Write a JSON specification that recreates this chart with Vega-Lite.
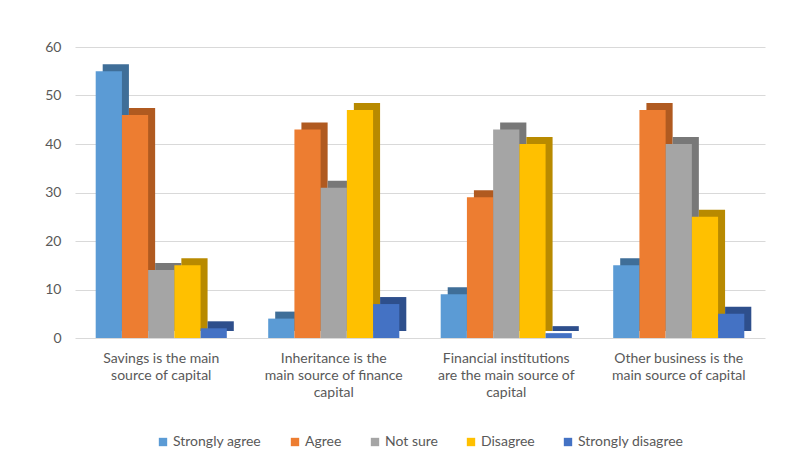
{
  "$schema": "https://vega.github.io/schema/vega-lite/v6.json",
  "width": 690,
  "height": 291,
  "autosize": {"type": "none"},
  "padding": {"left": 75, "top": 47, "right": 27, "bottom": 127},
  "background": "white",
  "config": {
    "font": "Lato",
    "view": {"stroke": null},
    "axis": {"labelColor": "#595959", "labelFontSize": 14, "labelFont": "Lato"},
    "legend": {"labelColor": "#595959", "labelFontSize": 14, "labelFont": "Lato", "layout": {"bottom": {"anchor": "middle"}}}
  },
  "data": {
    "values": [
      {"statement": "Savings", "response": "Strongly agree", "value": 55},
      {"statement": "Savings", "response": "Agree", "value": 46},
      {"statement": "Savings", "response": "Not sure", "value": 14},
      {"statement": "Savings", "response": "Disagree", "value": 15},
      {"statement": "Savings", "response": "Strongly disagree", "value": 2},
      {"statement": "Inheritance", "response": "Strongly agree", "value": 4},
      {"statement": "Inheritance", "response": "Agree", "value": 43},
      {"statement": "Inheritance", "response": "Not sure", "value": 31},
      {"statement": "Inheritance", "response": "Disagree", "value": 47},
      {"statement": "Inheritance", "response": "Strongly disagree", "value": 7},
      {"statement": "Financial", "response": "Strongly agree", "value": 9},
      {"statement": "Financial", "response": "Agree", "value": 29},
      {"statement": "Financial", "response": "Not sure", "value": 43},
      {"statement": "Financial", "response": "Disagree", "value": 40},
      {"statement": "Financial", "response": "Strongly disagree", "value": 1},
      {"statement": "Other", "response": "Strongly agree", "value": 15},
      {"statement": "Other", "response": "Agree", "value": 47},
      {"statement": "Other", "response": "Not sure", "value": 40},
      {"statement": "Other", "response": "Disagree", "value": 25},
      {"statement": "Other", "response": "Strongly disagree", "value": 5}
    ]
  },
  "encoding": {
    "x": {
      "field": "statement",
      "type": "nominal",
      "sort": ["Savings", "Inheritance", "Financial", "Other"],
      "scale": {"paddingInner": 0.24, "paddingOuter": 0.12},
      "axis": {
        "title": null,
        "labelAngle": 0,
        "ticks": false,
        "domain": false,
        "labelPadding": 13,
        "labelLineHeight": 17,
        "labelExpr": "datum.label == 'Savings' ? ['Savings is the main', 'source of capital'] : datum.label == 'Inheritance' ? ['Inheritance is the', 'main source of finance', 'capital'] : datum.label == 'Financial' ? ['Financial institutions', 'are the main source of', 'capital'] : ['Other business is the', 'main source of capital']"
      }
    },
    "y": {
      "field": "value",
      "type": "quantitative",
      "scale": {"domain": [0, 60]},
      "axis": {
        "title": null,
        "values": [0, 10, 20, 30, 40, 50, 60],
        "labelOverlap": false,
        "domain": false,
        "ticks": false,
        "labelPadding": 14,
        "gridColor": "#D9D9D9",
        "gridWidth": 1
      }
    }
  },
  "layer": [
    {
      "mark": {"type": "bar", "yOffset": -7},
      "encoding": {
        "xOffset": {
          "field": "response",
          "type": "nominal",
          "sort": ["Strongly agree", "Agree", "Not sure", "Disagree", "Strongly disagree"],
          "scale": {"range": [7, 138.1]}
        },
        "color": {
          "field": "response",
          "type": "nominal",
          "scale": {
            "domain": ["Strongly agree", "Agree", "Not sure", "Disagree", "Strongly disagree"],
            "range": ["#3F6E98", "#B05A20", "#787878", "#B88A00", "#2E4F8C"]
          },
          "legend": null
        }
      }
    },
    {
      "mark": {"type": "bar"},
      "encoding": {
        "xOffset": {
          "field": "response",
          "type": "nominal",
          "sort": ["Strongly agree", "Agree", "Not sure", "Disagree", "Strongly disagree"],
          "scale": {"range": [0, 131.1]}
        },
        "color": {
          "field": "response",
          "type": "nominal",
          "sort": ["Strongly agree", "Agree", "Not sure", "Disagree", "Strongly disagree"],
          "scale": {
            "domain": ["Strongly agree", "Agree", "Not sure", "Disagree", "Strongly disagree"],
            "range": ["#5B9BD5", "#ED7D31", "#A5A5A5", "#FFC000", "#4472C4"]
          },
          "legend": {
            "title": null,
            "orient": "bottom",
            "direction": "horizontal",
            "symbolType": "square",
            "symbolSize": 70,
            "symbolStrokeWidth": 0,
            "columnPadding": 26,
            "labelOffset": 3,
            "offset": 36
          }
        }
      }
    }
  ],
  "resolve": {"scale": {"color": "independent", "xOffset": "independent"}}
}
